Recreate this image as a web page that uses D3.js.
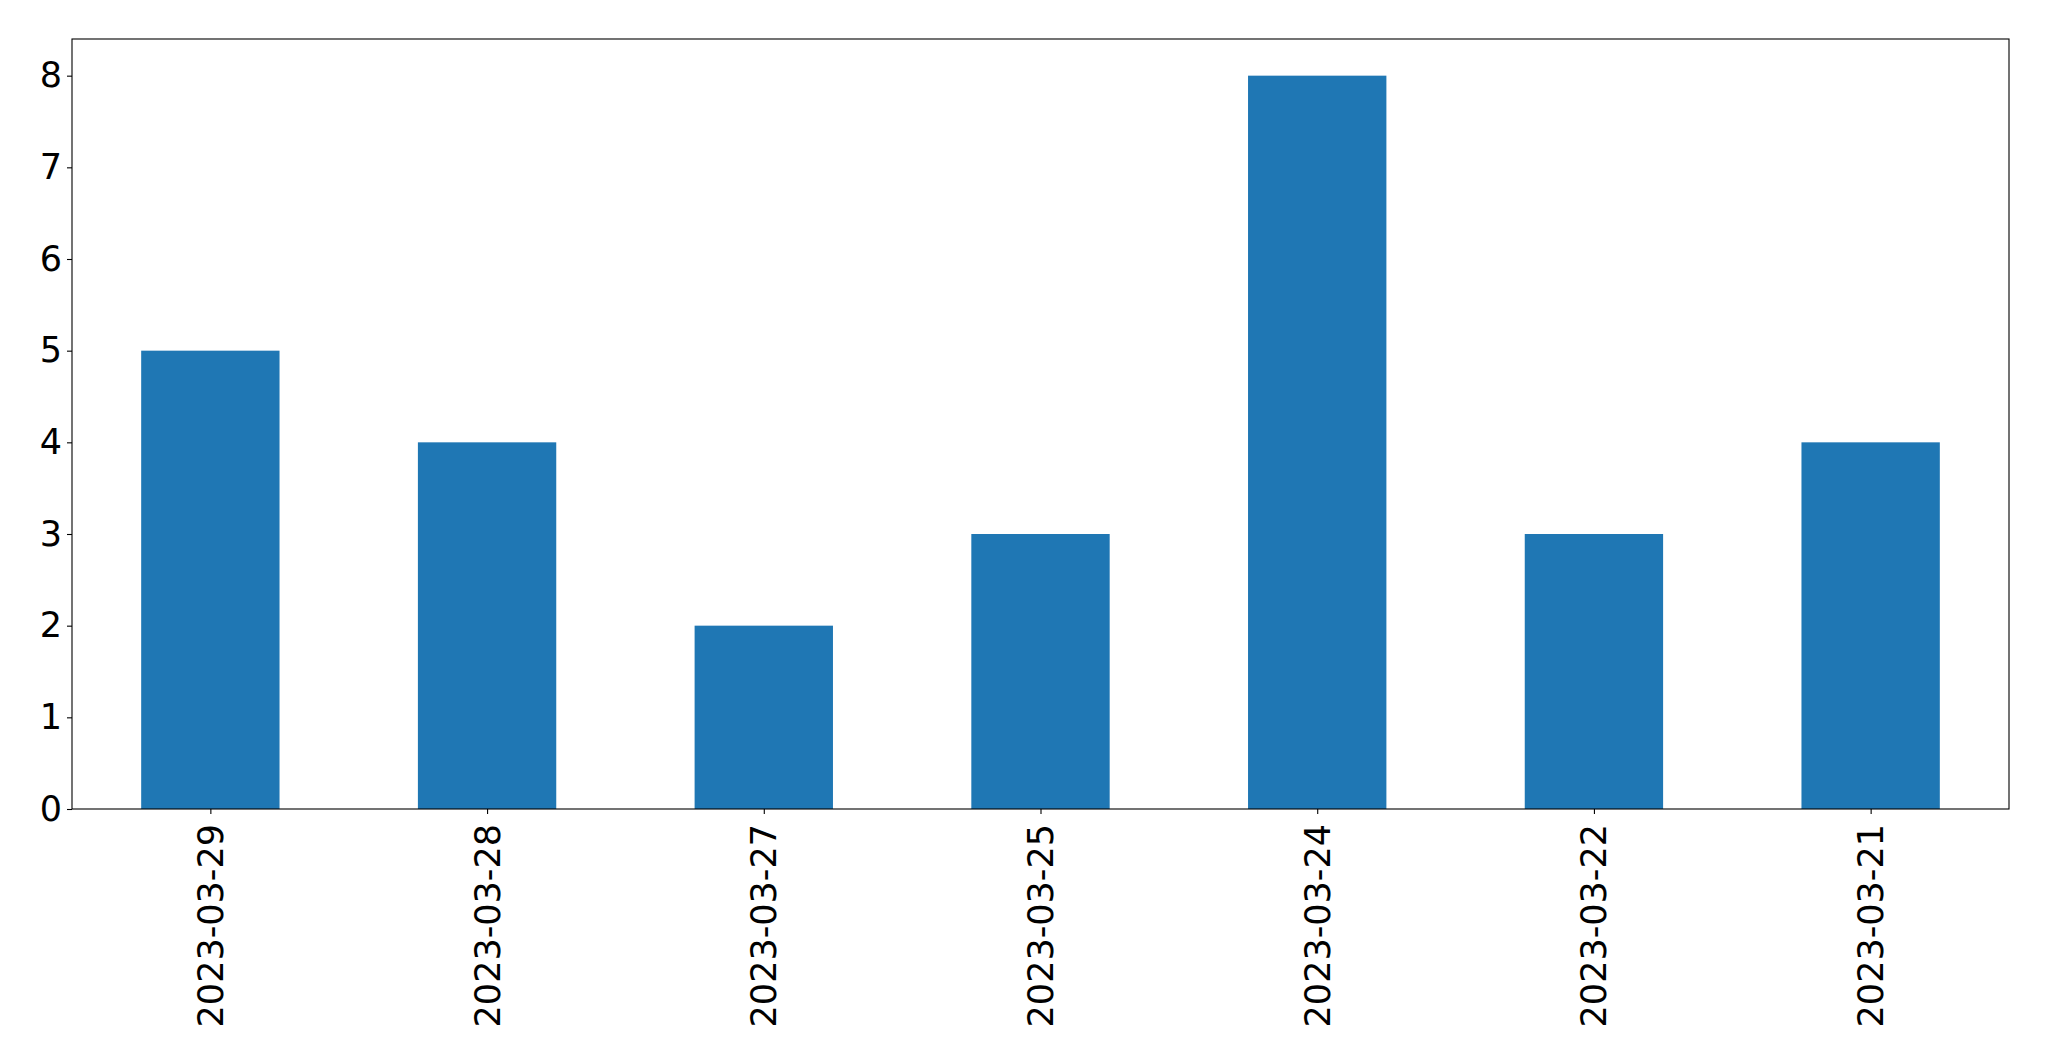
<!DOCTYPE html>
<html>
<head>
<meta charset="utf-8">
<script src="https://cdn.jsdelivr.net/npm/d3@7"></script>
<style>
  body { margin: 0; background: #fff; }
  svg text { font-family: "DejaVu Sans", sans-serif; }
</style>
</head>
<body>
<div class="canvas"></div>
<script>
const dates = ['2023-03-29', '2023-03-28', '2023-03-27', '2023-03-25', '2023-03-24', '2023-03-22', '2023-03-21'];
const counts = [5, 4, 2, 3, 8, 3, 4];
const yTicks = [0, 1, 2, 3, 4, 5, 6, 7, 8];

const width = 2049;
const height = 1061;
const margin = { left: 72, right: 40, top: 39, bottom: 252 };

const svg = d3.select('.canvas')
    .append('svg')
    .attr('width', width)
    .attr('height', height);

// matplotlib style: bars at integer positions, xlim -0.5..n-0.5
const x = d3.scaleLinear()
    .domain([-0.5, dates.length - 0.5])
    .range([margin.left, width - margin.right]);

const y = d3.scaleLinear()
    .domain([0, d3.max(counts) * 1.05])
    .range([height - margin.bottom, margin.top]);

const barW = x(0.5) - x(0);

svg.append('g')
    .selectAll('rect')
    .data(counts)
    .enter()
    .append('rect')
    .attr('x', (d, i) => x(i) - barW / 2)
    .attr('y', d => y(d))
    .attr('width', barW)
    .attr('height', d => y(0) - y(d))
    .attr('fill', '#1f77b4');

// y axis
const yAxis = svg.append('g')
    .attr('transform', `translate(${margin.left},0)`)
    .call(d3.axisLeft(y).tickValues(yTicks).tickFormat(d3.format('d')).tickSize(5).tickPadding(5));
yAxis.select('.domain').remove();
yAxis.selectAll('line').attr('stroke', '#000').attr('stroke-width', 1.1);
yAxis.selectAll('text').attr('font-size', 35).attr('fill', '#000');

// x axis
const xAxis = svg.append('g')
    .attr('transform', `translate(0,${y(0)})`)
    .call(d3.axisBottom(x).tickValues(d3.range(dates.length)).tickFormat(i => dates[i]).tickSize(5).tickPadding(0));
xAxis.select('.domain').remove();
xAxis.selectAll('line').attr('stroke', '#000').attr('stroke-width', 1.1);
xAxis.selectAll('text')
    .attr('font-size', 35)
    .attr('fill', '#000')
    .attr('text-anchor', 'end')
    .attr('dy', null)
    .attr('dominant-baseline', 'central')
    .attr('transform', 'translate(0,15) rotate(-90)')
    .attr('y', 0)
    .attr('x', 0);

// frame
svg.append('rect')
    .attr('x', margin.left)
    .attr('y', margin.top)
    .attr('width', width - margin.right - margin.left)
    .attr('height', y(0) - margin.top)
    .attr('fill', 'none')
    .attr('stroke', '#000')
    .attr('stroke-width', 1.1);
</script>
</body>
</html>
